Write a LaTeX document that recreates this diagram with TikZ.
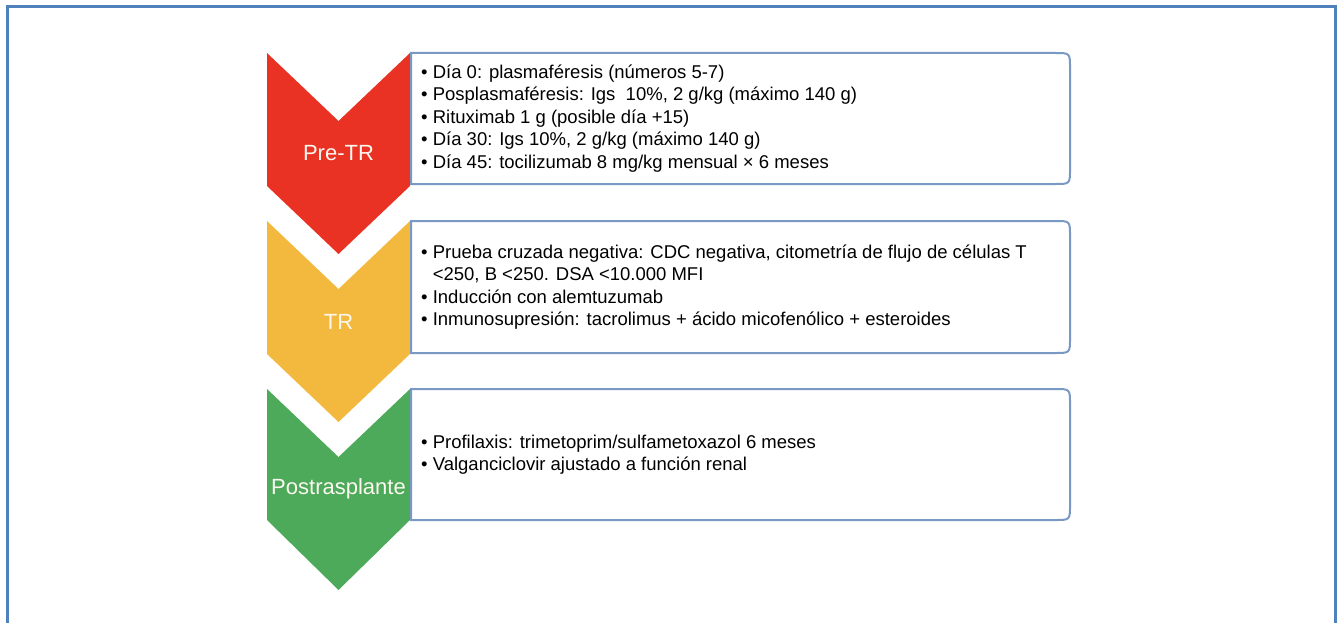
\documentclass[tikz,border=0pt]{standalone}
\usepackage{fontspec}
\setmainfont{Liberation Sans}

\definecolor{framecol}{RGB}{79,129,189}
\definecolor{boxcol}{RGB}{122,152,196}
\definecolor{prered}{RGB}{233,50,35}
\definecolor{tryellow}{RGB}{243,185,62}
\definecolor{postgreen}{RGB}{76,170,90}
\definecolor{labelcol}{RGB}{252,248,240}

\newcommand{\bul}{\textbullet\ }
\newcommand{\bulgap}{\phantom{\textbullet}\ }

\tikzset{
  stagebox/.style={draw=boxcol, line width=2pt, fill=white},
  stagelabel/.style={text=labelcol, font=\fontsize{22}{26}\selectfont, inner sep=0pt},
  bullets/.style={anchor=west, align=left, font=\fontsize{18.5}{22.5}\selectfont, inner sep=0pt}
}

\begin{document}
\begin{tikzpicture}[x=1pt,y=-1pt]
\useasboundingbox (0,0) rectangle (1338,623);

% outer frame (bottom edge cut off)
\draw[framecol, line width=3pt] (7,623) -- (7,7) -- (1335,7) -- (1335,623);

% Pre-TR
\fill[prered] (267,53) -- (338.5,121) -- (410,53) -- (410,186) -- (338.5,254) -- (267,186) -- cycle;
\node[stagelabel] (pretr) at (338.5,153) {Pre-TR};
\draw[stagebox] (411,53) -- (1055,53) .. controls (1070,53) .. (1070,68) -- (1070,169) .. controls (1070,184) .. (1055,184) -- (411,184) -- cycle;
\node[bullets] (pretrlist) at (421,118.5) {\bul Día 0: plasmaféresis (números 5-7)\\
\bul Posplasmaféresis: Igs~ 10\%, 2 g/kg (máximo 140 g)\\
\bul Rituximab 1 g (posible día +15)\\
\bul Día 30: Igs 10\%, 2 g/kg (máximo 140 g)\\
\bul Día 45: tocilizumab 8 mg/kg mensual × 6 meses};

% TR
\fill[tryellow] (267,221) -- (338.5,289) -- (410,221) -- (410,354) -- (338.5,422) -- (267,354) -- cycle;
\node[stagelabel] (tr) at (338.5,322) {TR};
\draw[stagebox] (411,221) -- (1055,221) .. controls (1070,221) .. (1070,236) -- (1070,338) .. controls (1070,353) .. (1055,353) -- (411,353) -- cycle;
\node[bullets] (trlist) at (421,287) {\bul Prueba cruzada negativa: CDC negativa, citometría de flujo de células T\\
\bulgap <250, B <250. DSA <10.000 MFI\\
\bul Inducción con alemtuzumab\\
\bul Inmunosupresión: tacrolimus + ácido micofenólico + esteroides};

% Postrasplante
\fill[postgreen] (267,389) -- (338.5,457) -- (410,389) -- (410,520) -- (338.5,590) -- (267,520) -- cycle;
\node[stagelabel] (postrx) at (338.5,489) {Postrasplante};
\draw[stagebox] (411,389) -- (1055,389) .. controls (1070,389) .. (1070,404) -- (1070,505) .. controls (1070,520) .. (1055,520) -- (411,520) -- cycle;
\node[bullets] (postlist) at (421,454.5) {\bul Profilaxis: trimetoprim/sulfametoxazol 6 meses\\
\bul Valganciclovir ajustado a función renal};
\end{tikzpicture}
\end{document}
